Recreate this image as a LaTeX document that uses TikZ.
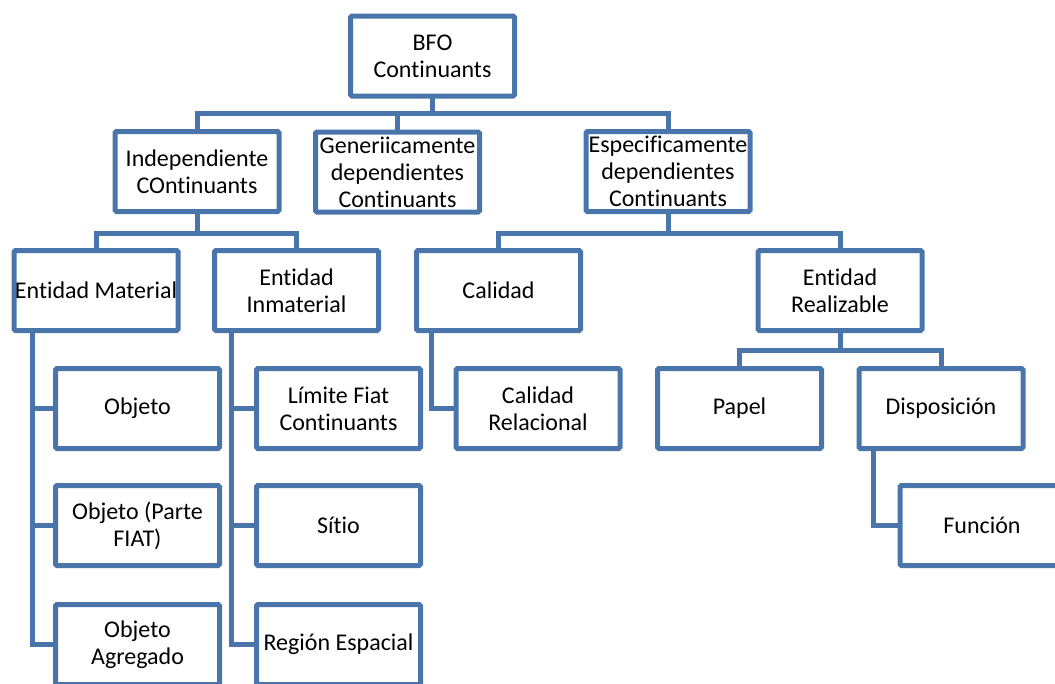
\documentclass[tikz,border=0pt]{standalone}
\usepackage{fontspec}
\setmainfont{Carlito}[Ligatures=NoCommon]
\definecolor{boxblue}{HTML}{4A75AB}
\begin{document}
\begin{tikzpicture}[x=1pt,y=-1pt,
  box/.style={draw=boxblue, line width=5pt, rounded corners=1.5pt, fill=white,
    minimum width=164pt, minimum height=80pt, inner sep=0pt, outer sep=0pt,
    align=center, font=\fontsize{24}{27}\selectfont},
  conn/.style={draw=boxblue, line width=5pt}]
\useasboundingbox (0,0) rectangle (1055,683);
\clip (0,0) rectangle (1055,683);

% level 1
\node[box] (bfo) at (432.5,56) {BFO\\Continuants};
% level 2
\node[box] (indep) at (197,171.5) {Independiente\\COntinuants};
\node[box] (gener) at (397.5,172) {Generiicamente\\dependientes\\Continuants};
\node[box] (espec) at (668,171.5) {Especificamente\\dependientes\\Continuants};
% level 3
\node[box] (em) at (96,290.5) {Entidad Material};
\node[box] (ei) at (296.5,290.5) {Entidad\\Inmaterial};
\node[box] (cal) at (498.5,290.5) {Calidad};
\node[box] (er) at (840,290.5) {Entidad\\Realizable};
% level 4
\node[box] (objeto) at (137.5,408.5) {Objeto};
\node[box] (limite) at (338.5,408.5) {Límite Fiat\\Continuants};
\node[box] (calrel) at (538,408.5) {Calidad\\Relacional};
\node[box] (papel) at (739.5,408.5) {Papel};
\node[box] (disp) at (941,408.5) {Disposición};
% level 5
\node[box] (objparte) at (137.5,525.5) {Objeto (Parte\\FIAT)};
\node[box] (sitio) at (338.5,525.5) {Sítio};
\node[box] (funcion) at (982,525.5) {Función};
% level 6
\node[box] (objagr) at (137.5,644.5) {Objeto\\Agregado};
\node[box] (region) at (338.5,644.5) {Región Espacial};

% bus coordinates
\coordinate (bus1) at (432.5,113);
\coordinate (bus2) at (197,233);
\coordinate (bus3) at (668,233);
\coordinate (bus4) at (840,350);
% trunk x positions for side branches
\coordinate (xem) at (32,0);
\coordinate (xei) at (231,0);
\coordinate (xcal) at (431,0);
\coordinate (xdisp) at (873,0);

% top-level bus
\draw[conn] (bfo.south) -- (bus1);
\draw[conn] (indep.north) |- (bus1) -| (espec.north);
\draw[conn] (gener.north) -- (gener.north |- bus1);
% independent continuants
\draw[conn] (indep.south) -- (bus2);
\draw[conn] (em.north) |- (bus2) -| (ei.north);
% specifically dependent continuants
\draw[conn] (espec.south) -- (bus3);
\draw[conn] (cal.north) |- (bus3) -| (er.north);
% realizable entity
\draw[conn] (er.south) -- (bus4);
\draw[conn] (papel.north) |- (bus4) -| (disp.north);

% side trunks
\draw[conn] (em.south -| xem) |- (objagr.west);
\draw[conn] (objeto.west) -- (objeto.west -| xem);
\draw[conn] (objparte.west) -- (objparte.west -| xem);
\draw[conn] (ei.south -| xei) |- (region.west);
\draw[conn] (limite.west) -- (limite.west -| xei);
\draw[conn] (sitio.west) -- (sitio.west -| xei);
\draw[conn] (cal.south -| xcal) |- (calrel.west);
\draw[conn] (disp.south -| xdisp) |- (funcion.west);
\end{tikzpicture}
\end{document}
